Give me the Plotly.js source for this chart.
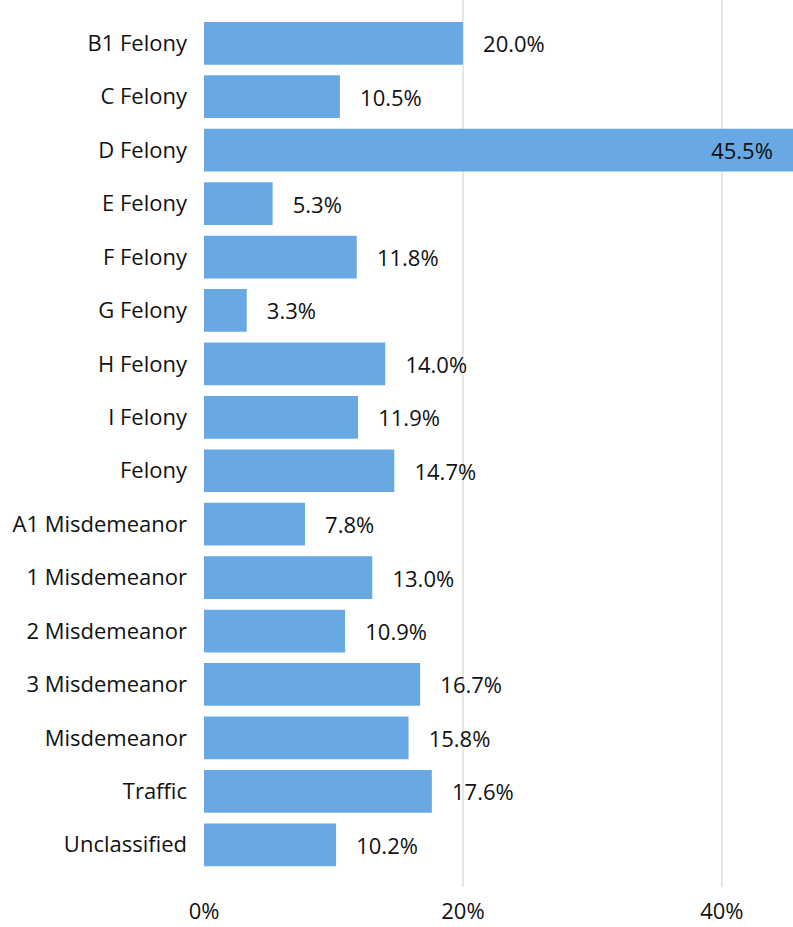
<!DOCTYPE html>
<html>
<head>
<meta charset="utf-8">
<script src="https://cdn.plot.ly/plotly-3.0.1.min.js"></script>
<style>
  html, body { margin: 0; padding: 0; background: #fff; }
  #chart { width: 793px; height: 927px; }
</style>
</head>
<body>
<div id="chart"></div>
<script>
// offense classes, top to bottom
var categories = [
  "B1 Felony",
  "C Felony",
  "D Felony",
  "E Felony",
  "F Felony",
  "G Felony",
  "H Felony",
  "I Felony",
  "Felony",
  "A1 Misdemeanor",
  "1 Misdemeanor",
  "2 Misdemeanor",
  "3 Misdemeanor",
  "Misdemeanor",
  "Traffic",
  "Unclassified",
];

var rates = [20.0, 10.5, 45.5, 5.3, 11.8, 3.3, 14.0, 11.9, 14.7, 7.8, 13.0, 10.9, 16.7, 15.8, 17.6, 10.2];

var xTicks = [0, 20, 40];
var xTickLabels = ["0%", "20%", "40%"];

var maxRate = Math.max.apply(null, rates);

// the biggest bar carries its label inside, the rest outside
var positions = rates.map(function (v) {
  return v === maxRate ? "inside" : "outside";
});
var templates = rates.map(function (v) {
  return v === maxRate ? "%{x:.1f}%   " : "   %{x:.1f}%";
});

var font = { family: "'Open Sans', sans-serif", size: 22, color: "#111111" };

var trace = {
  type: "bar",
  orientation: "h",
  x: rates,
  y: categories,
  marker: { color: "#68a8e3" },
  texttemplate: templates,
  textposition: positions,
  textfont: font,
  insidetextfont: font,
  outsidetextfont: font,
  insidetextanchor: "end",
  constraintext: "none",
  cliponaxis: false,
  hoverinfo: "none",
};

var layout = {
  width: 793,
  height: 927,
  margin: { l: 204, r: 0, t: 0, b: 40 },
  paper_bgcolor: "#ffffff",
  plot_bgcolor: "#ffffff",
  showlegend: false,
  bargap: 0.2,
  font: font,
  xaxis: {
    range: [0, maxRate],
    tickvals: xTicks,
    ticktext: xTickLabels,
    showgrid: true,
    gridcolor: "#e6e6e6",
    gridwidth: 2,
    zeroline: false,
    showline: false,
    ticks: "",
    ticklabelstandoff: 9,
  },
  yaxis: {
    type: "category",
    range: [categories.length - 1 + 0.79, -0.81],
    showgrid: false,
    zeroline: false,
    showline: false,
    ticks: "",
    ticklabelstandoff: 16,
  },
};

Plotly.newPlot("chart", [trace], layout, { displayModeBar: false, staticPlot: true });
</script>
</body>
</html>
